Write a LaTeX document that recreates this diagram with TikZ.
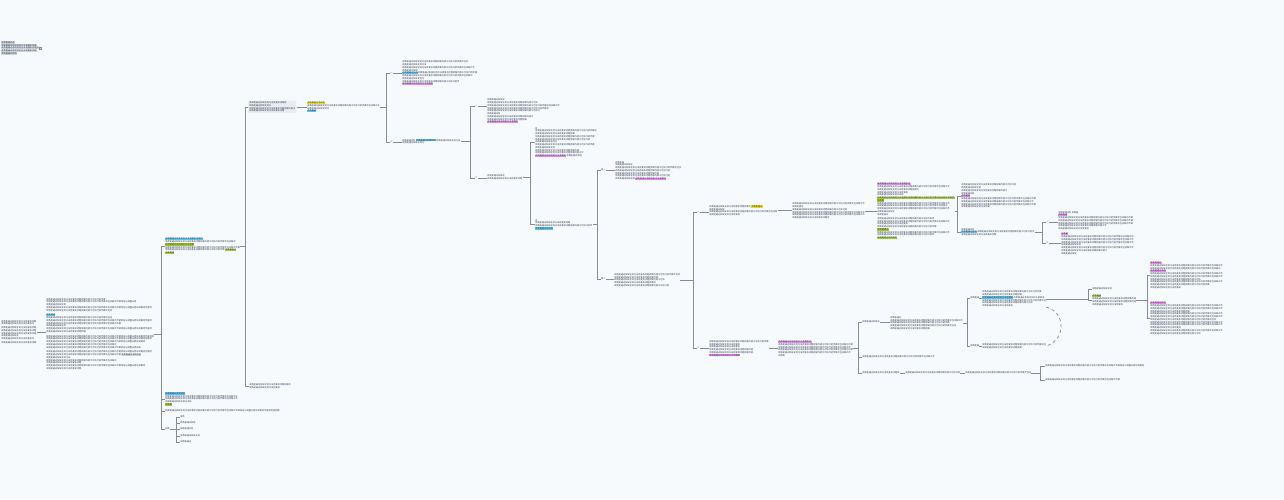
\documentclass[tikz,border=0pt]{standalone}
\usepackage{fontspec}
\usepackage{xstring}
\newfontfamily\cjk{Noto Sans CJK SC}
\definecolor{bg}{HTML}{F7FAFD}
\definecolor{txt}{HTML}{2F3A4C}
\definecolor{lnc}{HTML}{868C94}
\definecolor{hblue}{HTML}{5EC8F2}
\definecolor{hyel}{HTML}{F2DE1F}
\definecolor{hgrn}{HTML}{A6D12E}
\definecolor{hpink}{HTML}{F08AF2}
\definecolor{hgray}{HTML}{D3D7DE}
\definecolor{boxg}{HTML}{E9ECF0}
\newcommand\fillertxt{本质是通过系统化的方法将复杂问题拆解为若干可执行的步骤并在实践中不断验证与调整从而形成稳定可复用的经验模式最终提升整体效率与质量关键在于持续反思和积累知识结构清晰层次分明重点突出便于理解记忆与后续的复习和应用}
\newcommand\ft[1]{\StrLeft{\fillertxt}{\the\numexpr(#1)*10/22\relax}}
\setlength{\fboxsep}{0.15pt}
\newcommand\hb[1]{\colorbox{hblue}{\ft{#1}}}
\newcommand\hy[1]{\colorbox{hyel}{\ft{#1}}}
\newcommand\hg[1]{\colorbox{hgrn}{\ft{#1}}}
\newcommand\hp[1]{\colorbox{hpink}{\ft{#1}}}
\newcommand\hgr[1]{\colorbox{hgray}{\ft{#1}}}
\newcommand\mf{\cjk\fontsize{2.2}{2.75}\selectfont}
\newcommand\mmH[2]{\draw[conn] (#1.east) -- (#1.east -| #2.west);}
\newcommand\mmT[2]{\draw[conn] (#1.east) -- (#1.east -| #2);}
\newcommand\mmF[2]{\draw[conn] (#1 |- #2.west) -- (#2.west);}
\newcommand\mmV[3]{\draw[conn] (#1 |- #2.west) -- (#1 |- #3.west);}
\tikzset{
  blk/.style={anchor=west, inner sep=0pt, align=left, font=\mf, text=txt},
  lab/.style={anchor=west, inner sep=0pt, font=\mf, text=txt},
  conn/.style={draw=lnc, line width=0.75pt},
}
\begin{document}
\begin{tikzpicture}[x=1pt,y=-1pt]
\fill[bg] (0,0) rectangle (1284,499);
\useasboundingbox (0,0) rectangle (1284,499);
% top-left note
\node[blk] (n0) at (1,48) {\hgr{13}\\\hgr{35}\\\hgr{37}\\\hgr{35}\\\hgr{15}};
\node[fill=hgray, draw=lnc, line width=0.2pt, minimum size=2.4pt, inner sep=0pt] (n0i) at (40,48) {};
% root
\node[blk] (R) at (1,332) {\ft{36}\\\ft{33}\\[1pt]\ft{36}\\\ft{36}\\\ft{36}\\\ft{18}\\\ft{33}\\[1pt]\ft{36}};
\node[blk] (A) at (46,334) {\ft{60}\\\ft{91}\\\ft{20}\\\ft{105}\\\ft{65}\\[2pt]\hb{8}\\\ft{65}\\\ft{105}\\\ft{75}\\\ft{20}\\\ft{105}\\\ft{40}\\[2pt]\ft{107}\\\ft{105}\\\ft{100}\\\ft{70}\\\ft{95}\\[2pt]\ft{105}\\\ft{75}\,\hgr{20}\\\ft{25}\\\ft{70}\\\ft{35}\\\ft{100}\\\ft{35}};
\mmH{R}{A}
% trunk
\coordinate (bA) at (161,0);
\node[blk] (B) at (165,246) {\hb{37}\\\ft{70}\\\hg{29}\\\ft{74}\\\ft{59}\,\hg{12}\\\hg{9}};
\node[blk] (C) at (165,399) {\hb{19}\\\ft{73}\\\ft{73}\\\ft{27}\\\hg{7}};
\node[blk] (D) at (165,411) {\ft{115}};
\node[blk] (E) at (165,429) {\ft{5}};
\mmT{A}{bA}
\mmV{bA}{B}{E}
\mmF{bA}{B}\mmF{bA}{C}\mmF{bA}{D}\mmF{bA}{E}
\coordinate (bE) at (176,0);
\node[blk] (E1) at (180,417) {\ft{5}};
\node[blk] (E2) at (180,423) {\ft{16}};
\node[blk] (E3) at (180,429) {\ft{14}};
\node[blk] (E4) at (180,436) {\ft{20}};
\node[blk] (E5) at (180,442) {\ft{11}};
\mmT{E}{bE}
\mmV{bE}{E1}{E5}
\mmF{bE}{E1}\mmF{bE}{E2}\mmF{bE}{E3}\mmF{bE}{E4}\mmF{bE}{E5}
% second trunk
\coordinate (bB) at (245,0);
\node[blk, fill=boxg, rounded corners=1pt, inner sep=1pt] (F) at (248,107) {\ft{37}\\\ft{22}\\\ft{47}\\\ft{35}};
\node[blk] (G) at (249,386) {\ft{41}\\\ft{30}};
\mmT{B}{bB}
\mmV{bB}{F}{G}
\mmF{bB}{F}\mmF{bB}{G}
\node[blk] (H) at (307,107) {\hy{18}\\\ft{73}\\\ft{21}\\\hb{8}};
\mmH{F}{H}
\coordinate (bH) at (386,0);
\node[lab] (I1) at (390,73) {一};
\node[lab] (I2) at (390,142) {二};
\node[blk] (J1) at (402,73) {\ft{67}\\\ft{25}\\\ft{73}\\\ft{15}\\\hb{15}\ft{60}\\\ft{71}\\\ft{23}\\\ft{58}\\\hp{30}};
\node[blk] (J2) at (402,141.5) {\ft{13}\,\hb{20}\,\ft{24}\\\ft{21}};
\mmT{H}{bH}
\mmV{bH}{I1}{I2}
\mmF{bH}{I1}\mmF{bH}{I2}
\mmH{I1}{J1}\mmH{I2}{J2}
\coordinate (bJ) at (470,0);
\node[lab] (K1) at (475,106) {一};
\node[lab] (K2) at (475,178) {二};
\node[blk] (L1) at (487,111) {\ft{17}\\\ft{50}\\\ft{73}\\\ft{62}\\\ft{53}\\\ft{13}\\\ft{47}\\\ft{40}\\\hp{30}};
\node[blk] (L2) at (487,177.5) {\ft{18}\\\ft{36}};
\mmT{J2}{bJ}
\mmV{bJ}{K1}{K2}
\mmF{bJ}{K1}\mmF{bJ}{K2}
\mmH{K1}{L1}\mmH{K2}{L2}
\coordinate (bL) at (530,0);
\node[blk] (M1) at (535,142) {\ft{3}\\\ft{62}\\\ft{40}\\\ft{60}\\\ft{55}\\\ft{22}\\\ft{60}\\\ft{20}\\\ft{45}\\\ft{48}\\\hp{30}\ft{15}};
\node[blk] (M2) at (535,224.5) {\ft{3}\\\ft{35}\\\ft{57}\\\hb{17}};
\mmT{L2}{bL}
\mmV{bL}{M1}{M2}
\mmF{bL}{M1}\mmF{bL}{M2}
\coordinate (bM) at (597,0);
\node[lab] (N1) at (601,170) {其一};
\node[lab] (N2) at (601,279) {其二};
\node[blk] (O1) at (615,170.5) {\ft{8}\\\ft{18}\\\ft{65}\\\ft{55}\\\ft{45}\\\ft{55}\\\ft{20}\,\hp{30}};
\node[blk] (O2) at (614,280) {\ft{66}\\\ft{45}\\\ft{50}\\\ft{42}\\\ft{55}};
\mmT{M2}{bM}
\mmV{bM}{N1}{N2}
\mmF{bM}{N1}\mmF{bM}{N2}
\mmH{N1}{O1}\mmH{N2}{O2}
\coordinate (bO) at (693,0);
\node[lab] (P1) at (697,212) {一};
\node[lab] (P2) at (697,348) {二};
\node[blk] (Q1) at (709,210.5) {\ft{41}\,\hy{12}\\\ft{15}\\\ft{68}\\\ft{31}};
\node[blk] (Q2) at (709,348.5) {\ft{59}\\\ft{31}\\\ft{31}\\\ft{44}\\\ft{44}\\\hp{30}};
\mmT{O2}{bO}
\mmV{bO}{P1}{P2}
\mmF{bO}{P1}\mmF{bO}{P2}
\mmH{P1}{Q1}\mmH{P2}{Q2}
% upper branch
\node[blk] (R1) at (792,211) {\ft{73}\\\ft{12}\\\ft{55}\\\ft{72}\\\ft{73}\\\ft{38}};
\node[blk] (S1) at (877,211) {\hp{32}\\\ft{73}\\\ft{42}\\\ft{30}\\\ft{27}\\\hg{76}\\\hg{6}\\\ft{73}\\\ft{70}\\\ft{73}\\\ft{17}\\\ft{10}\\[1.5pt]\ft{57}\\\ft{73}\\\ft{30}\\\ft{60}\\\hg{10}\\\ft{73}\\\ft{57}\\\hg{20}};
\mmH{Q1}{R1}\mmH{R1}{S1}
\coordinate (bS) at (957,0);
\node[blk] (T1) at (961,196) {\ft{54}\\\ft{19}\\\ft{46}\\\ft{14}\\\hp{9}\\\ft{74}\\\ft{73}\\\ft{74}\\\ft{29}};
\node[blk] (T2) at (961,232) {\ft{14}\\\hb{16}\,\ft{57}\\\ft{36}};
\mmT{S1}{bS}
\mmV{bS}{T1}{T2}
\mmF{bS}{T1}\mmF{bS}{T2}
\coordinate (bT) at (1042,0);
\node[lab] (U1) at (1046,222) {一};
\node[lab] (U2) at (1046,243) {二};
\node[blk] (V1) at (1058,220.5) {\ft{13}\,\ft{7}\\\hp{9}\\\ft{74}\\\ft{74}\\\ft{74}\\\ft{48}\\\ft{30}};
\node[blk] (V2) at (1061,243.5) {\hp{6}\\\ft{72}\\\ft{72}\\\ft{72}\\\ft{20}\\\ft{72}\\\ft{46}\\\ft{15}};
\mmT{T2}{bT}
\mmV{bT}{U1}{U2}
\mmF{bT}{U1}\mmF{bT}{U2}
\mmH{U1}{V1}\mmH{U2}{V2}
% lower branch
\node[blk] (R2) at (778,348.5) {\hp{32}\\\ft{74}\\\ft{72}\\\ft{74}\\\ft{72}\\\ft{7}};
\mmH{Q2}{R2}
\coordinate (bR) at (858,0);
\node[blk] (W1) at (862,322) {\ft{18}};
\node[blk] (W2) at (862,357) {\ft{73}};
\node[blk] (W3) at (862,373) {\ft{38}};
\mmT{R2}{bR}
\mmV{bR}{W1}{W3}
\mmF{bR}{W1}\mmF{bR}{W2}\mmF{bR}{W3}
\node[blk] (X1) at (890,323) {\ft{10}\\\ft{72}\\\ft{60}\\\ft{65}\\\ft{40}};
\mmH{W1}{X1}
\coordinate (bX) at (967,0);
\node[lab] (Y1) at (970,298) {\ft{8}};
\node[lab] (Y2) at (970,346) {\ft{8}};
\node[blk] (Z1) at (982,299) {\ft{60}\\\ft{40}\\\hb{30}\,\ft{30}\\\ft{63}\\\ft{50}\\\ft{30}};
\node[blk] (Z2) at (982,346) {\ft{63}\\\ft{40}};
\mmT{X1}{bX}
\mmV{bX}{Y1}{Y2}
\mmF{bX}{Y1}\mmF{bX}{Y2}
\mmH{Y1}{Z1}\mmH{Y2}{Z2}
\draw[conn, dashed] (Z1.south east) .. controls (1066,312) and (1066,340) .. (Z2.east);
\coordinate (bZ) at (1088,0);
\node[blk] (AC1) at (1092,289) {\ft{20}};
\node[blk] (AC2) at (1092,300) {\hg{8}\\\ft{45}\\\ft{45}\\\ft{30}};
\mmT{Z1}{bZ}
\mmV{bZ}{AC1}{AC2}
\mmF{bZ}{AC1}\mmF{bZ}{AC2}
\coordinate (bAC) at (1147,0);
\node[blk] (AD1) at (1150,275) {\hp{12}\\\ft{72}\\\ft{70}\\\hp{15}\\\ft{72}\\\ft{72}\\\ft{50}\\\ft{72}\\\ft{60}\\\ft{30}};
\node[blk] (AD2) at (1150,318) {\hp{15}\\\ft{72}\\\ft{72}\\\ft{40}\\\ft{72}\\\ft{72}\\\ft{65}\\\ft{72}\\\ft{72}\\\ft{30}\\\ft{72}\\\ft{50}};
\mmT{AC2}{bAC}
\mmV{bAC}{AD1}{AD2}
\mmF{bAC}{AD1}\mmF{bAC}{AD2}
\node[blk] (WA) at (905,373) {\ft{55}};
\node[blk] (WB) at (965,373) {\ft{65}};
\mmH{W3}{WA}\mmH{WA}{WB}
\coordinate (bW) at (1040,0);
\node[blk] (WC1) at (1045,366) {\ft{100}};
\node[blk] (WC2) at (1045,380) {\ft{75}};
\mmT{WB}{bW}
\mmV{bW}{WC1}{WC2}
\mmF{bW}{WC1}\mmF{bW}{WC2}
\end{tikzpicture}
\end{document}
